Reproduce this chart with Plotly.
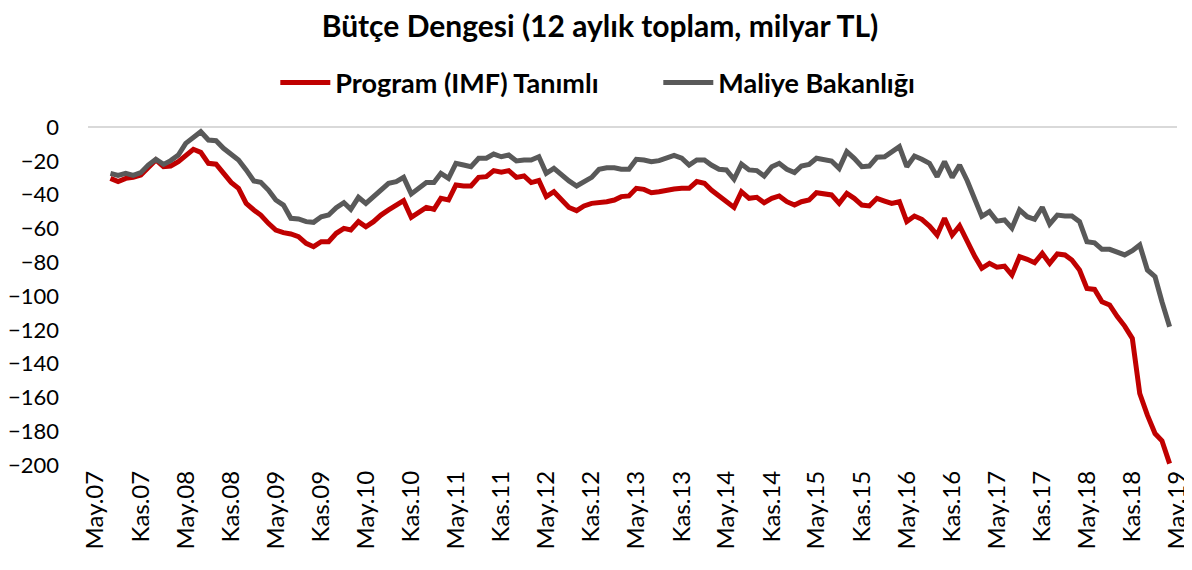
import plotly.graph_objects as go
import pandas as pd

# Monthly data, Jul.07 .. Apr.19 (12-month rolling sum, billion TL)
start_month = "2007-07-01"
end_month = "2019-04-01"

program_imf = [
    -30.4, -32.3, -30.4, -29.8, -28.4, -23.5, -19.5, -23.5, -23.1, -20.5,
    -16.6, -13.2, -15.0, -21.5, -22.0, -27.4, -32.8, -36.3, -45.2, -49.1,
    -52.1, -57.0, -61.0, -62.5, -63.3, -64.9, -68.8, -70.8, -67.9, -67.9,
    -62.9, -60.0, -60.9, -56.0, -59.0, -56.0, -52.1, -49.1, -46.2, -43.6,
    -53.5, -50.7, -47.6, -48.7, -42.2, -43.2, -34.3, -34.9, -34.9, -29.8,
    -29.4, -25.8, -26.8, -25.8, -29.8, -29.0, -32.9, -31.7, -41.2, -38.3,
    -43.2, -47.6, -49.5, -46.7, -45.2, -44.8, -44.2, -43.2, -41.2, -40.8,
    -36.3, -36.9, -38.9, -38.3, -37.3, -36.7, -36.3, -36.3, -32.3, -33.3,
    -37.3, -40.8, -44.2, -47.6, -38.3, -42.2, -41.6, -44.8, -42.2, -40.8,
    -44.2, -46.2, -44.2, -43.2, -38.9, -39.6, -40.2, -45.2, -39.3, -42.2,
    -46.2, -46.7, -42.2, -43.8, -45.2, -44.2, -56.0, -52.7, -54.6, -58.6,
    -63.9, -54.0, -63.9, -58.5, -68.3, -76.7, -83.6, -80.7, -83.0, -82.4,
    -87.6, -76.7, -78.3, -80.3, -74.8, -80.7, -75.1, -75.7, -78.7, -84.6,
    -95.5, -96.1, -103.4, -105.3, -112.2, -117.8, -125.1, -157.7, -170.5, -181.4,
    -185.7, -199.2,
]

maliye_bakanligi = [
    -27.4, -28.6, -27.4, -28.6, -27.0, -22.5, -19.1, -22.1, -19.9, -16.6,
    -9.7, -5.7, -2.8, -7.7, -8.1, -12.6, -16.6, -19.5, -25.4, -31.9,
    -32.7, -37.3, -43.2, -46.2, -54.0, -54.4, -56.0, -56.4, -53.1, -52.1,
    -47.8, -44.8, -48.7, -41.6, -45.2, -41.3, -36.7, -33.3, -32.3, -29.8,
    -39.6, -36.3, -32.9, -32.9, -27.4, -30.4, -21.5, -22.5, -23.5, -18.5,
    -18.5, -16.0, -17.6, -16.6, -20.1, -19.5, -19.5, -17.6, -27.4, -24.5,
    -28.4, -31.9, -34.9, -32.3, -29.8, -25.0, -24.1, -24.1, -25.0, -25.0,
    -19.1, -19.5, -20.5, -19.9, -18.5, -16.8, -18.5, -22.5, -19.5, -19.5,
    -22.5, -25.0, -25.4, -30.9, -21.9, -25.4, -25.8, -29.0, -23.5, -21.5,
    -25.0, -27.0, -23.1, -22.1, -18.5, -19.1, -20.1, -24.5, -14.6, -18.5,
    -23.5, -23.1, -17.9, -17.6, -14.6, -11.6, -23.5, -17.2, -19.1, -21.5,
    -29.4, -20.5, -29.8, -22.5, -31.8, -43.2, -52.9, -50.1, -55.7, -55.0,
    -59.9, -49.1, -53.1, -54.6, -47.5, -57.4, -52.1, -52.7, -52.7, -56.0,
    -67.9, -68.5, -72.4, -72.4, -74.4, -75.7, -73.2, -69.8, -84.6, -88.6,
    -103.4, -118.2,
]

tick_dates = [
    "2007-05-01", "2007-11-01", "2008-05-01", "2008-11-01", "2009-05-01",
    "2009-11-01", "2010-05-01", "2010-11-01", "2011-05-01", "2011-11-01",
    "2012-05-01", "2012-11-01", "2013-05-01", "2013-11-01", "2014-05-01",
    "2014-11-01", "2015-05-01", "2015-11-01", "2016-05-01", "2016-11-01",
    "2017-05-01", "2017-11-01", "2018-05-01", "2018-11-01", "2019-05-01",
]
tick_labels = [
    "May.07", "Kas.07", "May.08", "Kas.08", "May.09", "Kas.09", "May.10",
    "Kas.10", "May.11", "Kas.11", "May.12", "Kas.12", "May.13", "Kas.13",
    "May.14", "Kas.14", "May.15", "Kas.15", "May.16", "Kas.16", "May.17",
    "Kas.17", "May.18", "Kas.18", "May.19",
]
y_ticks = [0, -20, -40, -60, -80, -100, -120, -140, -160, -180, -200]

months = pd.date_range(start_month, end_month, freq="MS")
assert len(months) == len(program_imf) == len(maliye_bakanligi)

FONT = "Lato"
W, H = 1184, 562

fig = go.Figure()
fig.add_trace(go.Scatter(
    x=months, y=program_imf, mode="lines", name="Program (IMF) Tanımlı",
    line=dict(color="#C00000", width=5), cliponaxis=False,
))
fig.add_trace(go.Scatter(
    x=months, y=maliye_bakanligi, mode="lines", name="Maliye Bakanlığı",
    line=dict(color="#595959", width=5), cliponaxis=False,
))

fig.update_layout(
    width=W, height=H,
    margin=dict(l=80, r=15, t=119, b=105),
    paper_bgcolor="white", plot_bgcolor="white",
    font=dict(family=FONT, color="#000000"),
    title=dict(
        text="<b>Bütçe Dengesi (12 aylık toplam, milyar TL)</b>",
        x=0.5, xanchor="center", y=1 - 18 / H, yanchor="middle",
        font=dict(family=FONT, size=30, color="#000000"),
    ),
    legend=dict(
        orientation="h", x=0.172, xanchor="left", y=1.13, yanchor="middle",
        font=dict(family=FONT, size=27, color="#000000", weight="bold"),
        itemwidth=50, tracegroupgap=0, bgcolor="rgba(0,0,0,0)",
        entrywidth=318, entrywidthmode="pixels",
    ),
    showlegend=True,
)
fig.update_xaxes(
    type="date", range=["2007-04-01", "2019-05-01"],
    tickmode="array", tickvals=tick_dates, ticktext=tick_labels,
    tickangle=-90, tickfont=dict(family=FONT, size=24, color="#000000"),
    showgrid=False, zeroline=False, showline=False, ticks="",
    automargin=False,
)
fig.update_yaxes(
    range=[-200, 0], tickmode="array", tickvals=y_ticks,
    tickfont=dict(family=FONT, size=22, color="#000000"),
    showgrid=False, zeroline=True, zerolinecolor="#d9d9d9", zerolinewidth=2,
    showline=False, ticks="", ticklabelstandoff=28, automargin=False,
)

fig.write_html("out.html")
